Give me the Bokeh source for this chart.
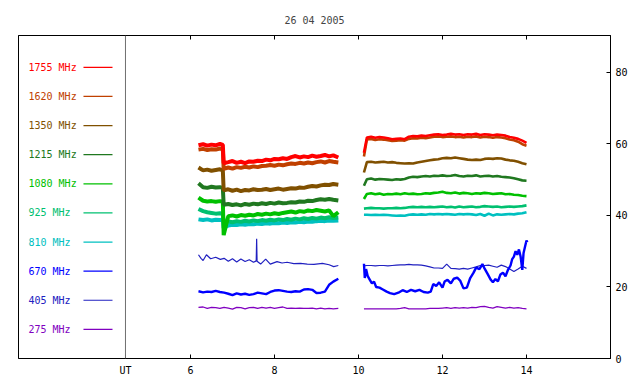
from bokeh.plotting import figure
from bokeh.models import Range1d, LinearAxis, FixedTicker, Span, CustomJSTickFormatter
from bokeh.core.properties import value
from bokeh.embed import file_html
from bokeh.resources import INLINE

TITLE = "26 04 2005"
FREQ_LABELS = ["1755 MHz", "1620 MHz", "1350 MHz", "1215 MHz", "1080 MHz",
               "925 MHz", "810 MHz", "670 MHz", "405 MHz", "275 MHz"]
COLORS = ["#ff0000", "#c04000", "#805000", "#207820", "#00c000",
          "#00c070", "#00c0c0", "#0000ff", "#2020c0", "#8000c0"]
X_TICKS = [6, 8, 10, 12, 14]
Y_TICKS = [0, 20, 40, 60, 80]
UT_LABEL = "UT"

# time grids (UT hours)
T1 = [6.19, 6.3, 6.4, 6.5, 6.6, 6.7, 6.77, 6.79, 6.9, 7.0, 7.1, 7.2, 7.3, 7.4, 7.5,
      7.6, 7.7, 7.8, 7.9, 8.0, 8.1, 8.2, 8.3, 8.4, 8.5, 8.6, 8.7, 8.8, 8.9, 9.0,
      9.1, 9.2, 9.3, 9.4, 9.52]
TL1 = [6.19, 6.3, 6.4, 6.5, 6.6, 6.7, 6.8, 6.9, 7.0, 7.1, 7.2, 7.3, 7.4, 7.5,
       7.6, 7.7, 7.8, 7.9, 8.0, 8.1, 8.2, 8.3, 8.4, 8.5, 8.6, 8.7, 8.8, 8.9, 9.0,
       9.1, 9.2, 9.3, 9.4, 9.52]
T2 = [10.13, 10.2, 10.3, 10.4, 10.5, 10.6, 10.7, 10.8, 10.9, 11.0,
      11.1, 11.2, 11.3, 11.4, 11.5, 11.6, 11.7, 11.8, 11.9, 12.0,
      12.1, 12.2, 12.3, 12.4, 12.5, 12.6, 12.7, 12.8, 12.9, 13.0,
      13.1, 13.2, 13.3, 13.4, 13.5, 13.6, 13.7, 13.8, 13.9, 14.0]

# segment 1 (T1)
F1755_A = [59.6, 59.9, 59.5, 59.8, 59.6, 60.0, 59.7,
           54.6, 54.9, 55.2, 54.7, 55.0, 54.6, 55.1, 55.0, 55.3, 55.2, 55.6, 55.4,
           55.8, 55.7, 56.0, 55.8, 56.3, 56.6, 56.2, 56.5, 56.3, 56.7, 56.4, 56.6,
           56.9, 56.5, 56.8, 56.2]
F1620_A = [58.4, 58.6, 58.3, 58.5, 58.4, 58.7, 58.5,
           53.0, 53.4, 53.1, 53.5, 53.3, 53.6, 53.4, 53.7, 53.5, 53.8, 53.9, 54.1,
           53.9, 54.2, 54.0, 54.3, 54.5, 54.4, 54.7, 54.5, 54.8, 54.6, 54.9, 55.1,
           54.8, 55.2, 55.0, 54.8]
F1350_A = [53.4, 52.6, 52.8, 52.5, 52.7, 52.9, 52.6,
           47.0, 47.3, 46.9, 47.2, 46.8, 47.1, 47.0, 47.3, 47.1, 47.2, 47.4, 47.1,
           47.3, 47.5, 47.2, 47.4, 47.6, 47.5, 47.8, 47.7, 48.0, 48.2, 48.1, 48.4,
           48.6, 48.5, 48.8, 48.6]
F1215_A = [49.0, 47.9, 47.7, 48.0, 47.8, 47.9, 47.7,
           43.0, 43.2, 42.9, 43.1, 42.8, 43.2, 43.0, 43.3, 43.1, 43.4, 43.2, 43.5,
           43.3, 43.6, 43.4, 43.5, 43.7, 43.6, 43.9, 43.8, 44.1, 44.0, 44.3, 44.5,
           44.4, 44.6, 44.4, 44.2]
F1080_A = [45.0, 44.1, 43.9, 44.0, 43.8, 44.0, 43.9,
           34.5, 39.8, 40.0, 39.7, 40.1, 39.9, 40.2, 40.0, 40.4, 40.2, 40.5, 40.3,
           40.6, 40.4, 40.7, 40.9, 41.1, 40.8, 41.2, 41.0, 41.4, 41.2, 41.5, 41.3,
           41.1, 41.4, 39.8, 40.9]
F925_A = [41.8, 41.2, 40.9, 40.7, 40.5, 40.6, 40.4,
          38.2, 38.3, 38.1, 38.4, 38.2, 38.5, 38.3, 38.6, 38.4, 38.7, 38.5, 38.8,
          38.6, 38.9, 38.7, 39.0, 38.8, 39.1, 38.9, 39.2, 39.0, 39.3, 39.1, 39.4,
          39.2, 39.5, 39.3, 39.4]
F810_A = [38.9, 38.7, 38.9, 38.6, 38.8, 38.7, 38.9,
          36.5, 37.2, 37.4, 37.3, 37.5, 37.4, 37.6, 37.5, 37.7, 37.6, 37.8, 37.7,
          37.9, 37.8, 38.0, 37.9, 38.1, 38.0, 38.2, 38.1, 38.3, 38.2, 38.4, 38.5,
          38.4, 38.6, 38.5, 38.6]
F670_A = [18.8, 18.5, 18.7, 18.6, 18.9, 18.6, 18.4, 18.1, 17.7, 18.2, 17.9, 18.1,
          17.8, 18.0, 18.4, 18.2, 18.0, 18.6, 19.0, 19.1, 18.9, 18.7, 18.6, 18.8,
          18.7, 19.3, 19.4, 19.2, 18.3, 18.4, 18.7, 20.6, 21.5, 22.3]
T405_A = [6.19, 6.25, 6.3, 6.38, 6.48, 6.6, 6.71, 6.8, 6.9, 7.0, 7.1, 7.2, 7.3, 7.4,
          7.5, 7.565, 7.575, 7.585, 7.67, 7.79, 7.9, 8.06, 8.18, 8.3, 8.46, 8.62,
          8.78, 8.94, 9.14, 9.3, 9.41, 9.52]
F405_A = [29.0, 28.0, 27.4, 29.0, 27.9, 28.3, 27.7, 28.0, 27.2, 27.9, 27.0, 27.8,
          27.1, 27.6, 26.9, 27.3, 33.5, 27.2, 26.4, 27.8, 26.4, 27.1, 26.7, 26.9,
          26.5, 26.6, 26.4, 26.3, 26.6, 26.2, 25.7, 26.0]
F275_A = [14.3, 14.4, 14.0, 14.3, 14.2, 14.0, 14.3, 14.1, 13.8, 14.3,
          14.2, 13.9, 14.2, 14.3, 14.0, 14.3, 14.1, 14.3, 14.0, 14.2,
          14.4, 14.0, 14.1, 14.0, 14.1, 14.0, 14.0, 14.1, 13.9, 14.1,
          13.9, 14.0, 13.9, 14.0]

# segment 2 (T2)
F1755_B = [57.5, 61.8, 62.0, 61.7, 61.9, 61.8, 61.6, 61.3, 61.4, 61.5,
           61.3, 62.0, 62.2, 62.1, 62.3, 62.2, 62.4, 62.6, 62.7, 62.5,
           62.6, 62.8, 62.6, 62.7, 62.5, 62.7, 62.6, 62.8, 62.5, 62.7,
           62.6, 62.4, 62.6, 62.5, 62.3, 61.9, 61.7, 61.4, 60.9, 60.3]
F1620_B = [56.5, 61.2, 61.4, 61.1, 61.3, 61.2, 61.0, 60.8, 60.9, 61.0,
           60.9, 61.4, 61.6, 61.5, 61.7, 61.6, 61.8, 62.0, 62.1, 61.9,
           62.0, 62.1, 61.9, 62.0, 61.8, 62.0, 61.9, 62.1, 61.8, 62.0,
           61.9, 61.7, 61.9, 61.8, 61.6, 61.2, 61.0, 60.6, 59.9, 59.5]
F1350_B = [52.0, 54.9, 55.0, 54.8, 54.9, 55.0, 54.8, 54.9, 54.7, 54.6,
           54.5, 54.6, 54.5, 54.8, 55.0, 55.2, 55.4, 55.6, 55.7, 56.0,
           56.1, 56.0, 56.2, 56.0, 55.8, 55.6, 55.5, 55.6, 55.5, 55.8,
           55.9, 55.8, 56.0, 55.9, 55.6, 55.4, 55.3, 55.0, 54.6, 54.3]
F1215_B = [48.3, 50.1, 50.3, 50.0, 50.2, 50.1, 50.0, 49.9, 50.1, 50.0,
           50.2, 50.6, 50.8, 50.7, 50.9, 51.0, 50.9, 51.1, 51.0, 51.2,
           51.0, 51.1, 51.3, 51.0, 50.9, 51.1, 51.0, 51.2, 50.9, 51.0,
           51.1, 50.9, 51.0, 50.8, 50.7, 50.6, 50.4, 50.1, 49.8, 49.7]
F1080_B = [44.6, 46.0, 46.2, 45.9, 46.1, 45.8, 46.0, 45.9, 46.1, 45.9,
           46.2, 46.0, 46.1, 45.9, 46.0, 46.2, 46.1, 46.3, 46.4, 46.6,
           46.3, 46.2, 46.4, 46.1, 46.3, 46.2, 46.0, 46.2, 46.1, 46.3,
           46.2, 46.0, 46.1, 46.2, 45.9, 46.0, 45.8, 45.7, 45.5, 45.4]
F925_B = [41.9, 42.0, 42.1, 42.0, 42.0, 41.9, 42.0, 42.0, 42.1, 42.0,
          42.1, 42.3, 42.4, 42.3, 42.4, 42.3, 42.4, 42.3, 42.4, 42.5,
          42.3, 42.4, 42.2, 42.5, 42.3, 42.4, 42.5, 42.3, 42.4, 42.6,
          42.5, 42.4, 42.5, 42.3, 42.4, 42.5, 42.4, 42.5, 42.6, 42.8]
F810_B = [40.2, 40.2, 40.1, 40.2, 40.1, 40.2, 40.1, 40.0, 39.9, 40.0,
          39.9, 40.2, 40.3, 40.2, 40.3, 40.2, 40.4, 40.3, 40.4, 40.3,
          40.4, 40.3, 40.2, 40.4, 40.3, 40.4, 40.3, 40.1, 40.4, 39.9,
          40.5, 40.0, 40.3, 40.2, 40.3, 40.4, 40.3, 40.5, 40.6, 40.9]
T670_B = [10.13, 10.15, 10.18, 10.22, 10.27, 10.32, 10.37, 10.42, 10.5, 10.58,
          10.67, 10.75, 10.85, 10.95, 11.05, 11.15, 11.25, 11.35, 11.45, 11.55,
          11.65, 11.72, 11.78, 11.85, 11.92, 12.0, 12.05, 12.12, 12.2, 12.27,
          12.35, 12.42, 12.5, 12.58, 12.66, 12.74, 12.8, 12.88, 12.95, 13.0,
          13.08, 13.15, 13.2, 13.26, 13.32, 13.38, 13.44, 13.5, 13.56, 13.62,
          13.66, 13.7, 13.74, 13.78, 13.82, 13.86, 13.9, 13.93, 13.97, 14.0, 14.02]
F670_B = [26.5, 22.5, 25.0, 23.0, 22.0, 21.0, 21.5, 20.0, 19.8, 19.3,
          18.7, 18.3, 18.0, 18.4, 19.1, 18.6, 19.2, 18.8, 19.2, 18.6,
          18.4, 18.7, 20.8, 20.3, 21.3, 19.8, 21.5, 22.0, 21.0, 22.3,
          22.6, 21.8, 19.6, 19.8, 22.5, 24.0, 25.4, 25.0, 26.4, 25.2,
          23.5, 22.0, 21.3, 22.2, 21.6, 23.5, 24.0, 23.0, 24.8, 26.0,
          27.8, 28.5, 30.0, 29.0, 30.5, 28.5, 24.8, 29.5, 31.5, 33.0, 32.5]
F405_B = [25.9, 26.0, 26.0, 25.9, 26.0, 26.0, 25.9, 26.0, 26.1, 26.2,
          26.2, 26.3, 26.2, 26.2, 26.1, 25.9, 25.6, 25.3, 25.3, 25.2,
          26.4, 25.2, 25.1, 25.0, 25.2, 25.0, 25.3, 25.6, 26.0, 26.0,
          26.1, 25.8, 25.5, 26.1, 25.7, 25.0, 24.3, 25.0, 25.8, 25.2]
F275_B = [13.9, 13.9, 13.9, 13.9, 13.9, 13.9, 13.9, 13.9, 13.9, 14.0,
          14.2, 13.9, 13.9, 13.9, 13.9, 13.9, 14.0, 14.0, 14.0, 14.1,
          14.2, 14.0, 14.2, 14.1, 14.2, 14.1, 14.3, 14.2, 14.5, 14.6,
          14.3, 14.1, 14.5, 14.3, 14.1, 14.3, 14.1, 14.2, 14.0, 13.9]

# ---------------- layout ----------------
X0, X1 = 1.905, 16.0
Y0, Y1 = 0.0, 90.3
DIVIDER_X = 4.452
LEG_TEXT_X = 2.143
LEG_LINE_X0, LEG_LINE_X1 = 3.452, 4.143
LEG_TOP, LEG_STEP = 81.4, 8.14

FONT = "DejaVu Sans Mono"

p = figure(width=632, height=378, output_backend="svg", toolbar_location=None,
           x_range=Range1d(X0, X1), y_range=Range1d(Y0, Y1),
           x_axis_location=None, y_axis_location=None,
           min_border_left=18, min_border_right=22, min_border_top=35,
           min_border_bottom=20, title=TITLE)
p.title.align = "center"
p.title.text_font = FONT
p.title.text_font_size = "10px"
p.title.text_font_style = "normal"
p.title.standoff = 20
p.grid.visible = False
p.outline_line_color = "black"
p.outline_line_alpha = 1.0
p.background_fill_color = "white"
p.border_fill_color = "white"

xb = LinearAxis(ticker=FixedTicker(ticks=[DIVIDER_X] + X_TICKS),
                formatter=CustomJSTickFormatter(code="return tick < 5 ? '%s' : tick.toFixed(0);" % UT_LABEL),
                major_tick_in=4, major_tick_out=0, minor_tick_line_color=None,
                major_label_standoff=6, major_label_text_font=FONT,
                major_label_text_font_size="10px", major_label_text_color="black",
                axis_line_color="black")
p.add_layout(xb, "below")

xt = LinearAxis(ticker=FixedTicker(ticks=X_TICKS),
                formatter=CustomJSTickFormatter(code="return '';"),
                major_tick_in=4, major_tick_out=0, minor_tick_line_color=None,
                major_label_standoff=0, major_label_text_font_size="1px",
                axis_line_color="black")
p.add_layout(xt, "above")

yr = LinearAxis(ticker=FixedTicker(ticks=Y_TICKS),
                major_tick_in=4, major_tick_out=0, minor_tick_line_color=None,
                major_label_standoff=5, major_label_text_font=FONT,
                major_label_text_font_size="10px", major_label_text_color="black",
                axis_line_color="black")
p.add_layout(yr, "right")

p.add_layout(Span(location=DIVIDER_X, dimension="height", line_color="#707070", line_width=1))

# series
upper_a = [F1755_A, F1620_A, F1350_A, F1215_A, F1080_A, F925_A, F810_A]
upper_b = [F1755_B, F1620_B, F1350_B, F1215_B, F1080_B, F925_B, F810_B]
for i in reversed(range(7)):
    p.line(T1, upper_a[i], line_color=COLORS[i], line_width=4.0)
    p.line(T2, upper_b[i], line_color=COLORS[i], line_width=2.6)

p.line(T405_A, F405_A, line_color=COLORS[8], line_width=1.2)
p.line(T2, F405_B, line_color=COLORS[8], line_width=1.2)
p.line(TL1, F670_A, line_color=COLORS[7], line_width=2.4)
p.line(T670_B, F670_B, line_color=COLORS[7], line_width=2.4)
p.line(TL1, F275_A, line_color=COLORS[9], line_width=1.3)
p.line(T2, F275_B, line_color=COLORS[9], line_width=1.3)

# legend panel
leg_y = [LEG_TOP - k * LEG_STEP for k in range(len(FREQ_LABELS))]
p.text(x=[LEG_TEXT_X] * len(FREQ_LABELS), y=leg_y, text=FREQ_LABELS,
       text_color=COLORS, text_font=value(FONT), text_font_size="10px",
       text_baseline="middle", text_align="left")
p.segment(x0=[LEG_LINE_X0] * len(leg_y), y0=leg_y, x1=[LEG_LINE_X1] * len(leg_y),
          y1=leg_y, line_color=COLORS, line_width=1.2)

open("out.html", "w").write(file_html(p, INLINE))
